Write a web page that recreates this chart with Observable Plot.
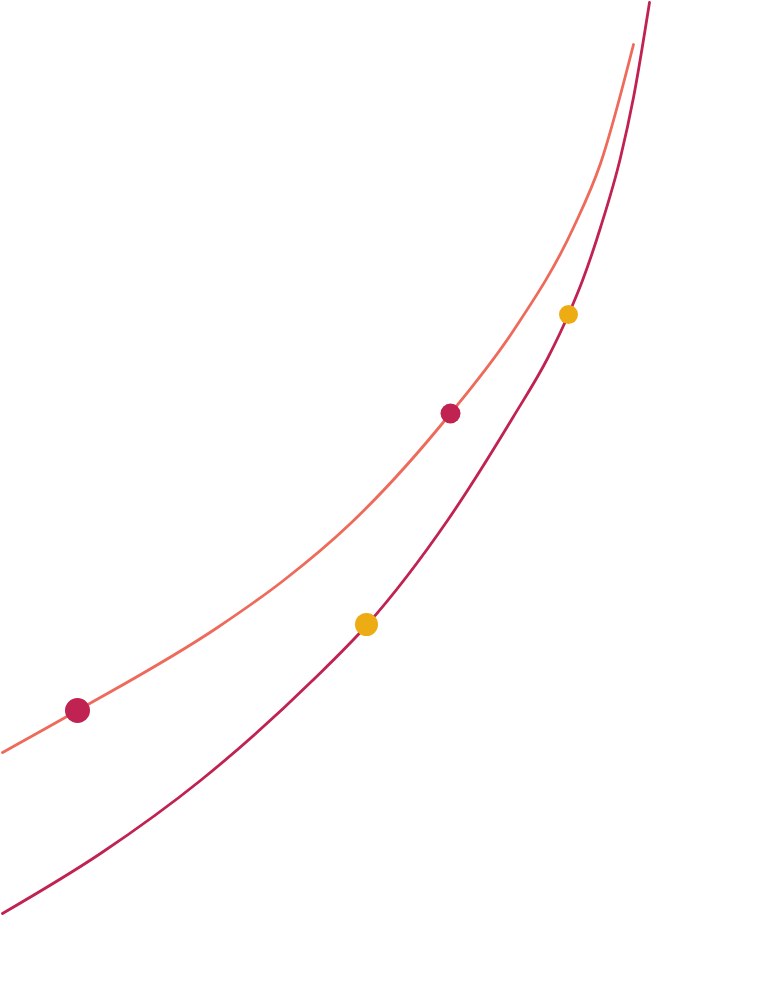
<!DOCTYPE html>
<html>
<head>
<meta charset="utf-8">
<style>
  html, body { margin: 0; padding: 0; background: #ffffff; }
  #chart svg { display: block; }
</style>
<script src="https://cdn.jsdelivr.net/npm/d3@7"></script>
<script src="https://cdn.jsdelivr.net/npm/@observablehq/plot@0.6"></script>
</head>
<body>
<div id="chart"></div>
<script>
// Upper curve (coral)
const upperX = [2, 77, 217, 283, 350, 450, 513, 573, 600, 633];
const upperY = [244, 286, 369, 416, 473, 583, 666, 769, 833, 952];
// Lower curve (crimson)
const lowerX = [2, 100, 200, 312, 366, 447, 513, 547, 568, 582, 600, 620, 633, 649];
const lowerY = [83, 143, 216, 316, 371, 476, 580, 638, 682, 716, 769, 839, 899, 994];
// Markers
const dotX = [77, 450, 366, 568];
const dotY = [286, 583, 372, 682];
const dotSize = [12.5, 10, 11.5, 9.5];
const dotGroup = ["A", "A", "B", "B"];

const upper = upperX.map((x, i) => ({x, y: upperY[i]}));
const lower = lowerX.map((x, i) => ({x, y: lowerY[i]}));
const dots = dotX.map((x, i) => ({x, y: dotY[i], r: dotSize[i], g: dotGroup[i]}));

const W = 765, H = 996;
const chart = Plot.plot({
  width: W,
  height: H,
  margin: 0,
  x: {domain: [0, W], axis: null},
  y: {domain: [0, H], axis: null},
  r: {type: "identity"},
  color: {type: "ordinal", domain: ["A", "B"], range: ["#C02252", "#EDAB14"]},
  marks: [
    Plot.line(upper, {x: "x", y: "y", stroke: "#EE6A5B", strokeWidth: 2.8, curve: "monotone-x"}),
    Plot.line(lower, {x: "x", y: "y", stroke: "#C02252", strokeWidth: 2.8, curve: "monotone-x"}),
    Plot.dot(dots, {x: "x", y: "y", r: "r", fill: "g", stroke: null})
  ]
});
document.getElementById("chart").appendChild(chart);
</script>
</body>
</html>
